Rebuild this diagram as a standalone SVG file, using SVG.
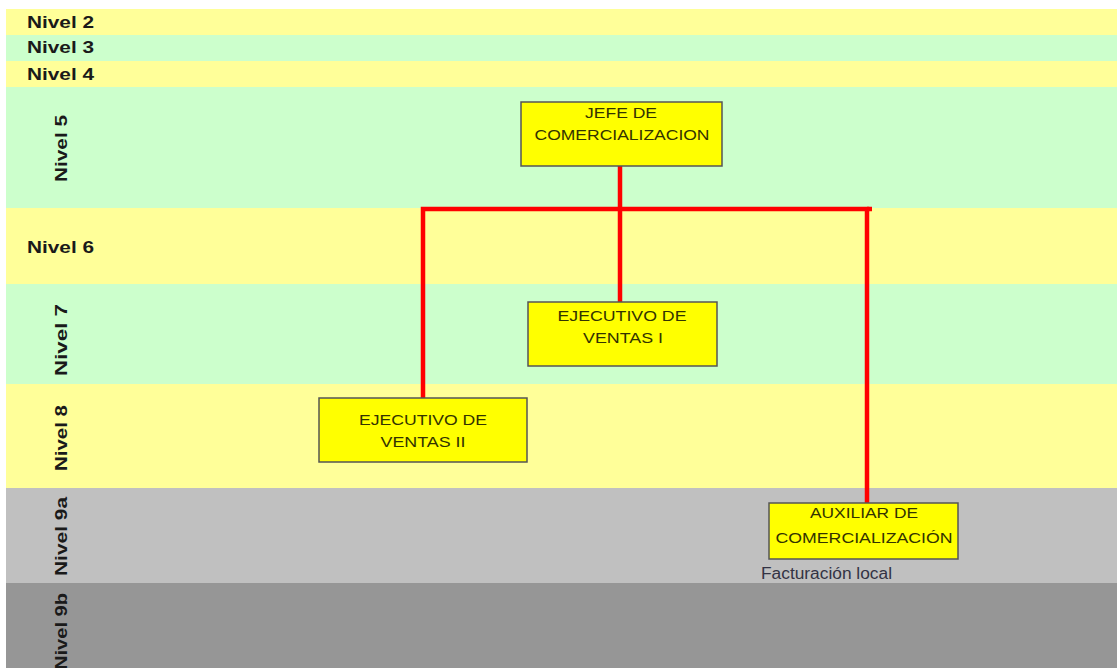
<svg xmlns="http://www.w3.org/2000/svg" width="1117" height="668" viewBox="0 0 1117 668">
  <style>
    .band-y { fill: #FFFF99; }
    .band-g { fill: #CCFFCC; }
    .band-l { fill: #C0C0C0; }
    .band-d { fill: #969696; }
    .lvl { font-family: "Liberation Sans", Arial, sans-serif; font-weight: bold; font-size: 17px; fill: #1a1a1a; }
    .box { fill: #FFFF00; stroke: #555555; stroke-width: 1.5; }
    .lbl { font-family: "Liberation Sans", Arial, sans-serif; font-size: 15.5px; fill: #333300; text-anchor: middle; }
    .note { font-family: "Liberation Sans", Arial, sans-serif; font-size: 16px; fill: #333344; }
    .link { fill: none; stroke: #FF0000; stroke-width: 4.5; stroke-linejoin: miter; }
  </style>

  <rect x="0" y="0" width="1117" height="668" fill="#FFFFFF"/>

  <!-- level bands -->
  <g id="levels">
    <rect class="band-y" x="6" y="9" width="1111" height="26"/>
    <rect class="band-g" x="6" y="35" width="1111" height="26"/>
    <rect class="band-y" x="6" y="61" width="1111" height="26"/>
    <rect class="band-g" x="6" y="87" width="1111" height="121"/>
    <rect class="band-y" x="6" y="208" width="1111" height="76"/>
    <rect class="band-g" x="6" y="284" width="1111" height="100"/>
    <rect class="band-y" x="6" y="384" width="1111" height="104"/>
    <rect class="band-l" x="6" y="488" width="1111" height="95"/>
    <rect class="band-d" x="6" y="583" width="1111" height="85"/>

    <text class="lvl" x="27" y="28" textLength="67" lengthAdjust="spacingAndGlyphs">Nivel 2</text>
    <text class="lvl" x="27" y="53" textLength="67" lengthAdjust="spacingAndGlyphs">Nivel 3</text>
    <text class="lvl" x="27" y="80" textLength="67" lengthAdjust="spacingAndGlyphs">Nivel 4</text>
    <text class="lvl" x="27" y="253" textLength="67" lengthAdjust="spacingAndGlyphs">Nivel 6</text>
    <text class="lvl" transform="translate(67,182) rotate(-90)" textLength="67" lengthAdjust="spacingAndGlyphs">Nivel 5</text>
    <text class="lvl" transform="translate(67,376) rotate(-90)" textLength="72" lengthAdjust="spacingAndGlyphs">Nivel 7</text>
    <text class="lvl" transform="translate(67,471) rotate(-90)" textLength="66" lengthAdjust="spacingAndGlyphs">Nivel 8</text>
    <text class="lvl" transform="translate(67,576) rotate(-90)" textLength="79" lengthAdjust="spacingAndGlyphs">Nivel 9a</text>
    <text class="lvl" transform="translate(67,670) rotate(-90)" textLength="77" lengthAdjust="spacingAndGlyphs">Nivel 9b</text>
  </g>

  <!-- reporting lines -->
  <g id="connectors">
    <polyline class="link" points="620,165 620,302"/>
    <polyline class="link" points="423,398 423,209 867,209 867,503"/>
    <line class="link" x1="867" y1="209" x2="872" y2="209"/>
  </g>

  <g id="jefe-comercializacion">
    <rect class="box" x="521" y="102" width="201" height="64"/>
    <text class="lbl" x="621" y="118" textLength="72" lengthAdjust="spacingAndGlyphs">JEFE DE</text>
    <text class="lbl" x="622" y="140" textLength="175" lengthAdjust="spacingAndGlyphs">COMERCIALIZACION</text>
  </g>

  <g id="ejecutivo-ventas-1">
    <rect class="box" x="528" y="302" width="189" height="64"/>
    <text class="lbl" x="622" y="321" textLength="129" lengthAdjust="spacingAndGlyphs">EJECUTIVO DE</text>
    <text class="lbl" x="623" y="343" textLength="80" lengthAdjust="spacingAndGlyphs">VENTAS I</text>
  </g>

  <g id="ejecutivo-ventas-2">
    <rect class="box" x="319" y="398" width="208" height="64"/>
    <text class="lbl" x="423" y="425" textLength="128" lengthAdjust="spacingAndGlyphs">EJECUTIVO DE</text>
    <text class="lbl" x="423" y="447" textLength="85" lengthAdjust="spacingAndGlyphs">VENTAS II</text>
  </g>

  <g id="auxiliar-comercializacion">
    <rect class="box" x="769" y="503" width="189" height="56"/>
    <text class="lbl" x="864" y="518" textLength="108" lengthAdjust="spacingAndGlyphs">AUXILIAR DE</text>
    <text class="lbl" x="864" y="543" textLength="177" lengthAdjust="spacingAndGlyphs">COMERCIALIZACIÓN</text>
    <text class="note" x="761" y="579" textLength="131" lengthAdjust="spacingAndGlyphs">Facturación local</text>
  </g>
</svg>
